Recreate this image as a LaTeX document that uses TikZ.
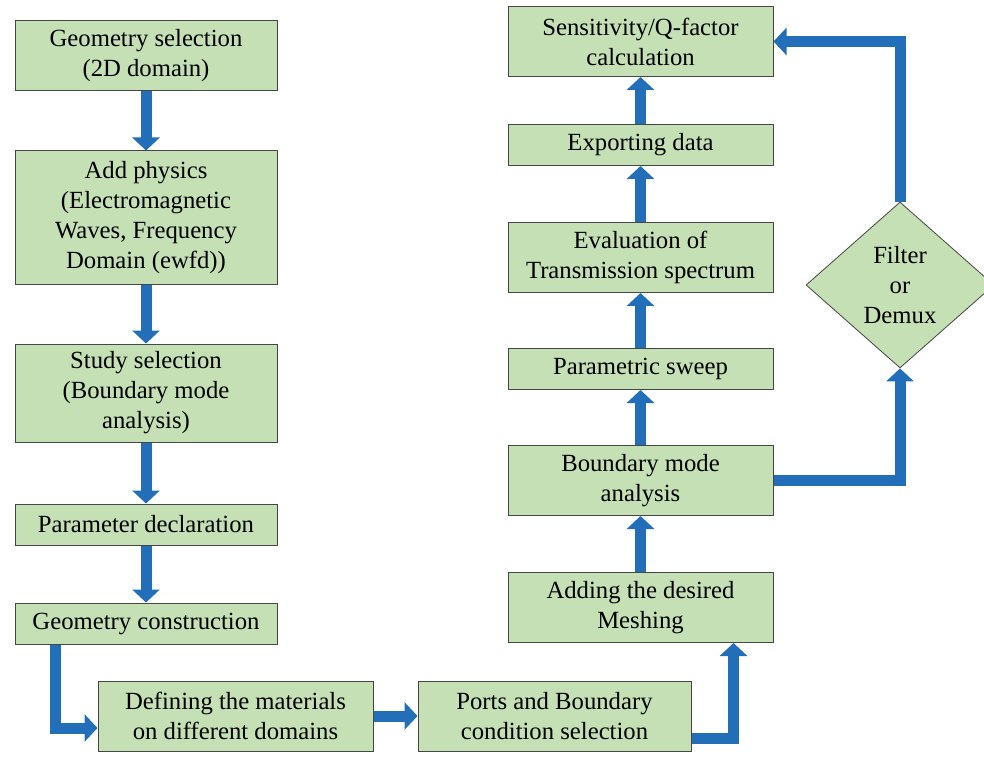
\documentclass[tikz,border=0pt]{standalone}
\usepackage{fontspec}
\setmainfont{Liberation Serif}
\usetikzlibrary{arrows.meta,positioning,shapes.geometric}
\definecolor{boxgreen}{RGB}{197,224,180}
\definecolor{flowblue}{RGB}{35,110,185}
\definecolor{edgegray}{RGB}{70,70,70}

\begin{document}
\begin{tikzpicture}[x=1pt, y=1pt, font=\fontsize{24.7}{30}\selectfont]
    \tikzstyle{box}=[draw=edgegray, fill=boxgreen, line width=1pt, align=center, inner xsep=4pt, inner ysep=0pt]
    \tikzstyle{oneline}=[minimum height=41pt]
    \tikzstyle{twoline}=[minimum height=70pt]
    \tikzstyle{threeline}=[minimum height=98pt]
    \tikzstyle{fourline}=[minimum height=134pt]
    \tikzstyle{leftcol}=[box, minimum width=262pt]
    \tikzstyle{rightcol}=[box, minimum width=265pt]
    \tikzstyle{decision}=[diamond, draw=edgegray, fill=boxgreen, line width=0.8pt, align=center, minimum width=188pt, minimum height=166pt, inner sep=0pt]
    \tikzstyle{flow}=[-{Triangle[width=27pt,length=13pt]}, draw=flowblue, line width=11pt]
    \useasboundingbox (0,0) rectangle (984,756);
    % left column
    \node[leftcol, twoline]   (geosel)   at (146,700)             {Geometry selection\\(2D domain)};
    \node[leftcol, fourline]  (physics)  [below=59pt of geosel]   {Add physics\\(Electromagnetic\\Waves, Frequency\\Domain (ewfd))};
    \node[leftcol, threeline] (study)    [below=58pt of physics]  {Study selection\\(Boundary mode\\analysis)};
    \node[leftcol, oneline]   (param)    [below=61pt of study]    {Parameter declaration};
    \node[leftcol, oneline]   (geocons)  [below=57pt of param]    {Geometry construction};
    % bottom row
    \node[box, twoline, minimum width=275pt] (materials) at (235.5,40)             {Defining the materials\\on different domains};
    \node[box, twoline, minimum width=273pt] (ports)     [right=44pt of materials] {Ports and Boundary\\condition selection};
    % right column
    \node[rightcol, twoline]  (sens)     at (640.5,714.5)         {Sensitivity/Q-factor\\calculation};
    \node[rightcol, oneline]  (export)   [below=47pt of sens]     {Exporting data};
    \node[rightcol, twoline]  (eval)     [below=56pt of export]   {Evaluation of\\Transmission spectrum};
    \node[rightcol, oneline]  (sweep)    [below=55pt of eval]     {Parametric sweep};
    \node[rightcol, twoline]  (bma)      [below=55pt of sweep]    {Boundary mode\\analysis};
    \node[rightcol, twoline]  (mesh)     [below=56pt of bma]      {Adding the desired\\Meshing};
    \node[decision] (filter)  at (900,471)                        {Filter\\or\\Demux};
    % connectors
    \draw[flow] (geosel) -- (physics);
    \draw[flow] (physics) -- (study);
    \draw[flow] (study) -- (param);
    \draw[flow] (param) -- (geocons);
    \draw[flow] ([xshift=-91pt]geocons.south) |- ([yshift=-12pt]materials.west);
    \draw[flow] (materials.east) -- (materials.east -| ports.west);
    \draw[flow] ([yshift=-22pt]ports.east) -| ([xshift=93pt]mesh.south);
    \draw[flow] (mesh) -- (bma);
    \draw[flow] (bma) -- (sweep);
    \draw[flow] (sweep) -- (eval);
    \draw[flow] (eval) -- (export);
    \draw[flow] (export) -- (sens);
    \draw[flow] (bma.east) -| (filter.south);
    \draw[flow] (filter.north) |- (sens.east);
\end{tikzpicture}
\end{document}
